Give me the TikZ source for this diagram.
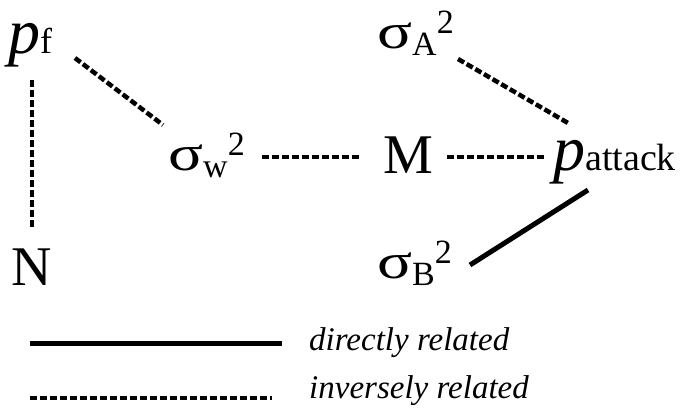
\documentclass[tikz,border=0pt]{standalone}
\usepackage{fontspec}
\setmainfont{Liberation Serif}
\newcommand{\mysub}[1]{\raisebox{-7pt}{\fontsize{34}{34}\selectfont #1}}
\newcommand{\mysup}[1]{\raisebox{15pt}{\fontsize{34}{34}\selectfont #1}}
\newcommand{\mysig}{\scalebox{1.3}[1]{\fontsize{50}{50}\selectfont σ}}
\newcommand{\myp}{{\fontsize{64}{64}\selectfont\textit{p}}}
\begin{document}
\begin{tikzpicture}[x=1pt,y=-1pt,
  lbl/.style={anchor=base west,inner sep=0pt,font=\fontsize{56}{56}\selectfont},
  leg/.style={anchor=base west,inner sep=0pt,font=\fontsize{33}{33}\selectfont\itshape},
  inv/.style={line width=4.5pt,dash pattern=on 7pt off 3pt},
  dir/.style={line width=5pt}]
\useasboundingbox (0,0) rectangle (695,410);
\node[lbl] (pf) at (8,53) {\myp{\fontsize{36}{36}\selectfont f}};
\node[lbl] (sA) at (377,48) {\mysig\mysub{A}\mysup{2}};
\node[lbl] (sw) at (168,170) {\mysig\mysub{w}\mysup{2}};
\node[lbl] (M) at (383,173) {M};
\node[lbl] (pa) at (553,170) {\myp{\fontsize{38}{38}\selectfont attack}};
\node[lbl] (N) at (11,285) {N};
\node[lbl] (sB) at (377,278) {\mysig\mysub{B}\mysup{2}};
\node[leg] (dr) at (309,350) {directly related};
\node[leg] (ir) at (309,398) {inversely related};
\coordinate (l1a) at (30,343);
\coordinate (l1b) at (282,343);
\coordinate (l2a) at (30,398);
\coordinate (l2b) at (272,398);
% connectors
\draw[inv] ([shift={(24,27)}]pf.base west) -- ([shift={(21,-55)}]N.base west);
\draw[inv] ([shift={(67,5)}]pf.base west) -- ([shift={(-5,-45)}]sw.base west);
\draw[inv] ([shift={(94,-13)}]sw.base west) -- ([shift={(-23,-16)}]M.base west);
\draw[inv] ([shift={(64,-16)}]M.base west) -- ([shift={(-8,-13)}]pa.base west);
\draw[inv] ([shift={(81,11)}]sA.base west) -- ([shift={(15,-47)}]pa.base west);
\draw[dir] ([shift={(93,-13)}]sB.base west) -- ([shift={(35,20)}]pa.base west);
\draw[dir] (l1a) -- (l1b);
\draw[inv] (l2a) -- (l2b);
\end{tikzpicture}
\end{document}
